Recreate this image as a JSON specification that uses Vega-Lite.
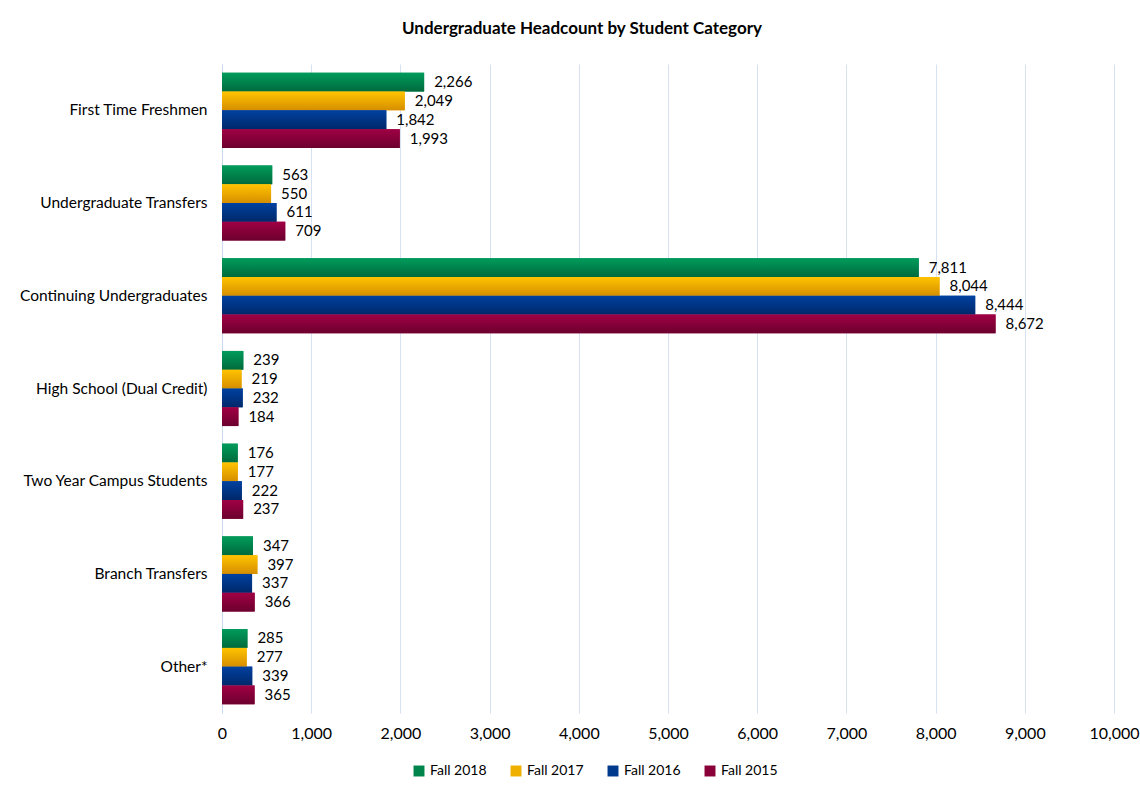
{
  "$schema": "https://vega.github.io/schema/vega-lite/v6.json",
  "autosize": "none",
  "width": 892,
  "height": 649,
  "padding": {"left": 222, "top": 64, "right": 26, "bottom": 83},
  "background": "white",
  "title": {"text": "Undergraduate Headcount by Student Category", "font": "Lato", "fontSize": 17, "fontWeight": "bold", "color": "#000000", "anchor": "middle", "dx": -86, "offset": 26},
  "config": {
    "view": {"stroke": null},
    "font": "Lato",
    "axis": {"labelFont": "Lato", "labelFontSize": 15.5, "labelColor": "#000000", "titleFont": "Lato"},
    "legend": {"labelFont": "Lato", "labelFontSize": 14, "labelColor": "#000000"}
  },
  "data": {"values": [
    {"category": "First Time Freshmen", "series": "Fall 2018", "value": 2266},
    {"category": "First Time Freshmen", "series": "Fall 2017", "value": 2049},
    {"category": "First Time Freshmen", "series": "Fall 2016", "value": 1842},
    {"category": "First Time Freshmen", "series": "Fall 2015", "value": 1993},
    {"category": "Undergraduate Transfers", "series": "Fall 2018", "value": 563},
    {"category": "Undergraduate Transfers", "series": "Fall 2017", "value": 550},
    {"category": "Undergraduate Transfers", "series": "Fall 2016", "value": 611},
    {"category": "Undergraduate Transfers", "series": "Fall 2015", "value": 709},
    {"category": "Continuing Undergraduates", "series": "Fall 2018", "value": 7811},
    {"category": "Continuing Undergraduates", "series": "Fall 2017", "value": 8044},
    {"category": "Continuing Undergraduates", "series": "Fall 2016", "value": 8444},
    {"category": "Continuing Undergraduates", "series": "Fall 2015", "value": 8672},
    {"category": "High School (Dual Credit)", "series": "Fall 2018", "value": 239},
    {"category": "High School (Dual Credit)", "series": "Fall 2017", "value": 219},
    {"category": "High School (Dual Credit)", "series": "Fall 2016", "value": 232},
    {"category": "High School (Dual Credit)", "series": "Fall 2015", "value": 184},
    {"category": "Two Year Campus Students", "series": "Fall 2018", "value": 176},
    {"category": "Two Year Campus Students", "series": "Fall 2017", "value": 177},
    {"category": "Two Year Campus Students", "series": "Fall 2016", "value": 222},
    {"category": "Two Year Campus Students", "series": "Fall 2015", "value": 237},
    {"category": "Branch Transfers", "series": "Fall 2018", "value": 347},
    {"category": "Branch Transfers", "series": "Fall 2017", "value": 397},
    {"category": "Branch Transfers", "series": "Fall 2016", "value": 337},
    {"category": "Branch Transfers", "series": "Fall 2015", "value": 366},
    {"category": "Other*", "series": "Fall 2018", "value": 285},
    {"category": "Other*", "series": "Fall 2017", "value": 277},
    {"category": "Other*", "series": "Fall 2016", "value": 339},
    {"category": "Other*", "series": "Fall 2015", "value": 365}
  ]},
  "encoding": {
    "y": {"field": "category", "type": "nominal", "sort": null,
      "scale": {"paddingInner": 0.19, "paddingOuter": 0.095},
      "axis": {"title": null, "ticks": false, "domain": true, "domainColor": "#c9d9ee", "domainWidth": 1, "labelPadding": 15, "labelLimit": 400, "grid": false}},
    "yOffset": {"field": "series", "type": "nominal", "scale": {"domain": ["Fall 2018", "Fall 2017", "Fall 2016", "Fall 2015"]}},
    "x": {"field": "value", "type": "quantitative",
      "scale": {"domain": [0, 10000], "nice": false},
      "axis": {"title": null, "format": ",.0f", "labelOverlap": false, "labelFlush": false, "labelFontSize": 16, "values": [0,1000,2000,3000,4000,5000,6000,7000,8000,9000,10000], "grid": true, "gridColor": "#d6e2f1", "gridWidth": 1, "domain": false, "ticks": false, "labelPadding": 12}}
  },
  "layer": [
    {
      "mark": {"type": "bar"},
      "encoding": {
        "color": {"field": "series", "type": "nominal",
          "scale": {"domain": ["Fall 2018", "Fall 2017", "Fall 2016", "Fall 2015"], "range": ["#00854c", "#f0b000", "#003a8c", "#8a0038"]},
          "legend": {"title": null, "orient": "none", "direction": "horizontal", "legendX": 190, "legendY": 700, "symbolType": "square", "symbolSize": 120, "columnPadding": 22, "labelOffset": 4}}
      }
    },
    {
      "transform": [{"filter": "datum.series === 'Fall 2018'"}],
      "mark": {"type": "bar", "color": {"gradient": "linear", "x1": 0, "y1": 0, "x2": 0, "y2": 1, "stops": [{"offset": 0, "color": "#009c5c"}, {"offset": 1, "color": "#006a3c"}]}},
      "encoding": {}
    },
    {
      "transform": [{"filter": "datum.series === 'Fall 2017'"}],
      "mark": {"type": "bar", "color": {"gradient": "linear", "x1": 0, "y1": 0, "x2": 0, "y2": 1, "stops": [{"offset": 0, "color": "#ffc400"}, {"offset": 1, "color": "#d68e00"}]}},
      "encoding": {}
    },
    {
      "transform": [{"filter": "datum.series === 'Fall 2016'"}],
      "mark": {"type": "bar", "color": {"gradient": "linear", "x1": 0, "y1": 0, "x2": 0, "y2": 1, "stops": [{"offset": 0, "color": "#0041a0"}, {"offset": 1, "color": "#00286a"}]}},
      "encoding": {}
    },
    {
      "transform": [{"filter": "datum.series === 'Fall 2015'"}],
      "mark": {"type": "bar", "color": {"gradient": "linear", "x1": 0, "y1": 0, "x2": 0, "y2": 1, "stops": [{"offset": 0, "color": "#a00044"}, {"offset": 1, "color": "#6c002e"}]}},
      "encoding": {}
    },
    {
      "mark": {"type": "text", "align": "left", "baseline": "middle", "dx": 10, "fontSize": 15, "font": "Lato", "color": "#000000"},
      "encoding": {"text": {"field": "value", "type": "quantitative", "format": ","}}
    }
  ]
}
